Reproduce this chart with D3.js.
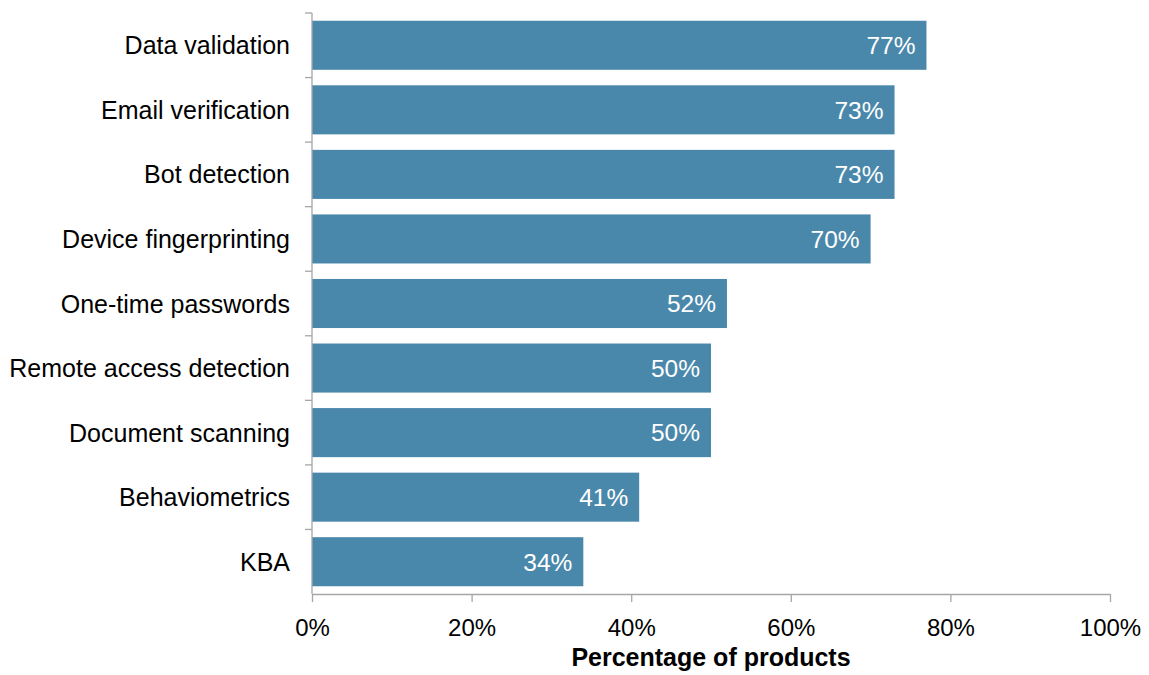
<!DOCTYPE html>
<html>
<head>
<meta charset="utf-8">
<script src="https://cdn.jsdelivr.net/npm/d3@7"></script>
<style>
  html, body { margin: 0; padding: 0; background: #fff; }
  svg { display: block; font-family: "Liberation Sans", Arial, sans-serif; }
</style>
</head>
<body>
<svg id="chart" width="1149" height="675"></svg>
<script>
// Share of products using each fraud-prevention technique
const categories = [
  "Data validation",
  "Email verification",
  "Bot detection",
  "Device fingerprinting",
  "One-time passwords",
  "Remote access detection",
  "Document scanning",
  "Behaviometrics",
  "KBA"
];
const values = [77, 73, 73, 70, 52, 50, 50, 41, 34];
const xTicks = [0, 20, 40, 60, 80, 100];
const xTitle = "Percentage of products";

const svg = d3.select("#chart");
const margin = { top: 13, right: 39, bottom: 81, left: 312 };
const width = 1149 - margin.left - margin.right;
const height = 675 - margin.top - margin.bottom;

const g = svg.append("g").attr("transform", `translate(${margin.left},${margin.top})`);

const x = d3.scaleLinear().domain([0, 100]).range([0, width]);
const y = d3.scaleBand().domain(categories).range([0, height]).paddingInner(0.24).paddingOuter(0.12);

const axisColor = "#a6a6a6";
const barColor = "#4a88ab";

const rows = categories.map((c, i) => ({ c, v: values[i] }));

// Bars
g.selectAll("rect.bar")
  .data(rows)
  .join("rect")
  .attr("class", "bar")
  .attr("x", x(0))
  .attr("y", d => y(d.c))
  .attr("width", d => x(d.v) - x(0))
  .attr("height", y.bandwidth())
  .attr("fill", barColor);

// Value labels inside bar ends
g.selectAll("text.val")
  .data(rows)
  .join("text")
  .attr("class", "val")
  .attr("x", d => x(d.v) - 11)
  .attr("y", d => y(d.c) + y.bandwidth() / 2)
  .attr("dy", "0.36em")
  .attr("text-anchor", "end")
  .attr("fill", "#fff")
  .style("font-size", "24.5px")
  .text(d => d.v + "%");

// Y axis: category boundaries ticked on the left
const yAxisG = g.append("g");
yAxisG.append("line")
  .attr("x1", 0).attr("x2", 0).attr("y1", 0).attr("y2", height)
  .attr("stroke", axisColor).attr("stroke-width", 1.3);
const boundaries = d3.range(categories.length).map(i => i * height / categories.length);
yAxisG.selectAll("line.tick")
  .data(boundaries)
  .join("line")
  .attr("class", "tick")
  .attr("x1", -7).attr("x2", 0)
  .attr("y1", d => d).attr("y2", d => d)
  .attr("stroke", axisColor).attr("stroke-width", 1.3);
yAxisG.selectAll("text.cat")
  .data(categories)
  .join("text")
  .attr("class", "cat")
  .attr("x", -22)
  .attr("y", d => y(d) + y.bandwidth() / 2)
  .attr("dy", "0.36em")
  .attr("text-anchor", "end")
  .attr("fill", "#000")
  .style("font-size", "25px")
  .text(d => d);

// X axis
const xAxis = d3.axisBottom(x)
  .tickValues(xTicks)
  .tickFormat(d => d + "%")
  .tickSize(8)
  .tickPadding(17)
  .tickSizeOuter(0);
const xAxisG = g.append("g").attr("transform", `translate(0,${height})`).call(xAxis);
xAxisG.select(".domain").attr("stroke", axisColor).attr("stroke-width", 1.3);
xAxisG.selectAll(".tick line").attr("stroke", axisColor).attr("stroke-width", 1.3);
xAxisG.selectAll(".tick text")
  .attr("fill", "#000")
  .style("font-size", "24px")
  .style("font-family", "'Liberation Sans', Arial, sans-serif");

// X axis title
g.append("text")
  .attr("x", width / 2)
  .attr("y", height + 72)
  .attr("text-anchor", "middle")
  .attr("fill", "#000")
  .style("font-size", "25px")
  .style("font-weight", "bold")
  .text(xTitle);
</script>
</body>
</html>
